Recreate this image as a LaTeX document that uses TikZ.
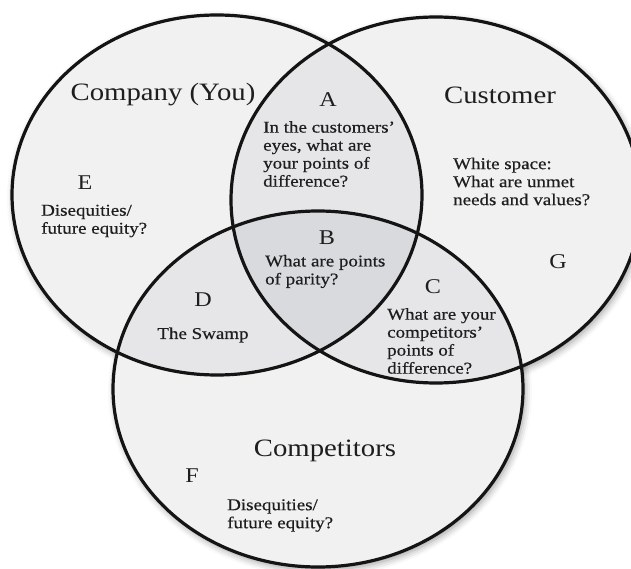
\documentclass[tikz,border=0pt]{standalone}
\usepackage{fontspec}
\setmainfont{Liberation Serif}[FakeStretch=1.15]
\newfontfamily\notefont{Liberation Serif}[FakeStretch=1.15, FakeBold=0.5]
\usetikzlibrary{shadows.blur}

\definecolor{ringfill}{HTML}{F1F1F2}
\definecolor{pairfill}{HTML}{E6E6E9}
\definecolor{corefill}{HTML}{D9DADD}
\definecolor{inktext}{HTML}{1E1E1E}

\tikzset{
  ring/.style={line width=3.2pt, draw=black!92},
  title/.style={font=\fontsize{25}{28}\selectfont, text=inktext, inner sep=0pt},
  letter/.style={font=\fontsize{21}{24}\selectfont, text=inktext, inner sep=0pt},
  note/.style={font=\notefont\fontsize{16.5}{18}\selectfont, text=inktext, align=left, inner sep=0pt, anchor=west},
}

\begin{document}
\begin{tikzpicture}[x=1pt, y=-1pt]
\useasboundingbox (0,0) rectangle (631,569);
% centres of the three rings
\coordinate (you) at (217,195);
\coordinate (cust) at (436,200);
\coordinate (comp) at (318,389);

% soft shadows first, so no shadow falls on a ring
\foreach \c/\ry in {you/180pt, cust/183pt, comp/178pt}
  \path[fill=white, blur shadow={shadow xshift=2pt, shadow yshift=-3pt, shadow blur radius=7pt, shadow opacity=40}]
    (\c) ellipse [x radius=205pt, y radius=\ry];

% base fill
\fill[ringfill] (you) ellipse [x radius=205pt, y radius=180pt];
\fill[ringfill] (cust) ellipse [x radius=205pt, y radius=183pt];
\fill[ringfill] (comp) ellipse [x radius=205pt, y radius=178pt];

% overlaps of two
\begin{scope}
  \clip (you) ellipse [x radius=205pt, y radius=180pt];
  \fill[pairfill] (cust) ellipse [x radius=205pt, y radius=183pt];
  \fill[pairfill] (comp) ellipse [x radius=205pt, y radius=178pt];
\end{scope}
\begin{scope}
  \clip (cust) ellipse [x radius=205pt, y radius=183pt];
  \fill[pairfill] (comp) ellipse [x radius=205pt, y radius=178pt];
\end{scope}

% overlap of all three
\begin{scope}
  \clip (you) ellipse [x radius=205pt, y radius=180pt];
  \clip (cust) ellipse [x radius=205pt, y radius=183pt];
  \fill[corefill] (comp) ellipse [x radius=205pt, y radius=178pt];
\end{scope}

\draw[ring] (you) ellipse [x radius=205pt, y radius=180pt];
\draw[ring] (cust) ellipse [x radius=205pt, y radius=183pt];
\draw[ring] (comp) ellipse [x radius=205pt, y radius=178pt];

% ring titles
\node[title] (youname) at (163,95) {Company (You)};
\node[title] (custname) at (500,95) {Customer};
\node[title] (compname) at (325,451) {Competitors};

% region letters
\node[letter] (a) at (328,100) {A};
\node[letter] (b) at (327,238) {B};
\node[letter] (c) at (433,287) {C};
\node[letter] (d) at (203,300) {D};
\node[letter] (e) at (85,183) {E};
\node[letter] (f) at (192,476) {F};
\node[letter] (g) at (558,262) {G};

% region questions
\node[note] (atext) at (263,154) {In the customers’\\eyes, what are\\your points of\\difference?};
\node[note] (btext) at (265,271.5) {What are points\\of parity?};
\node[note] (ctext) at (387,341) {What are your\\competitors’\\points of\\difference?};
\node[note, anchor=center] (dtext) at (203,335) {The Swamp};
\node[note] (etext) at (41,221) {Disequities/\\future equity?};
\node[note] (ftext) at (227,515.5) {Disequities/\\future equity?};
\node[note] (gtext) at (453,181.5) {White space:\\What are unmet\\needs and values?};
\end{tikzpicture}
\end{document}
